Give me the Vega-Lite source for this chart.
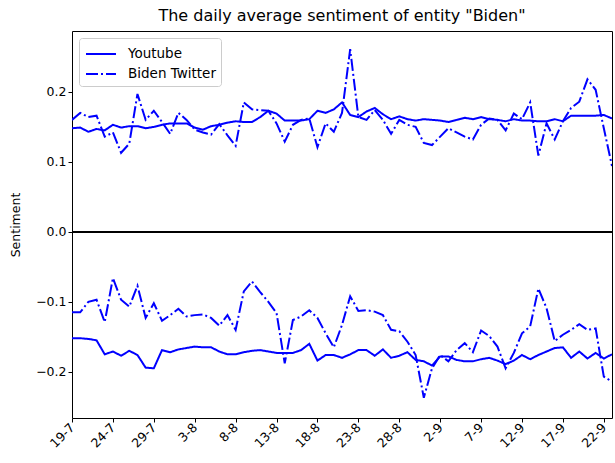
{
  "$schema": "https://vega.github.io/schema/vega-lite/v6.json",
  "width": 540,
  "height": 387,
  "autosize": {"type": "none"},
  "padding": {"left": 72, "top": 31, "right": 3, "bottom": 45},
  "background": "white",
  "title": {"text": "The daily average sentiment of entity \"Biden\"", "fontSize": 16, "fontWeight": "normal", "font": "DejaVu Sans", "color": "black", "offset": 7},
  "config": {
    "view": {"stroke": "black", "strokeWidth": 1},
    "axis": {"grid": false, "domain": false, "tickColor": "black", "tickSize": 4, "labelColor": "black", "labelFont": "DejaVu Sans", "labelFontSize": 12.5, "titleFont": "DejaVu Sans", "titleFontWeight": "normal", "titleFontSize": 12.5, "titleColor": "black"},
    "legend": {"labelFont": "DejaVu Sans", "labelFontSize": 13.5, "labelColor": "black"}
  },
  "data": {"values": [
    {"date":"2020-07-19","source":"Youtube","pos":0.148,"neg":-0.152},{"date":"2020-07-19","source":"Biden Twitter","pos":0.160,"neg":-0.115},
    {"date":"2020-07-20","source":"Youtube","pos":0.149,"neg":-0.152},{"date":"2020-07-20","source":"Biden Twitter","pos":0.170,"neg":-0.115},
    {"date":"2020-07-21","source":"Youtube","pos":0.143,"neg":-0.153},{"date":"2020-07-21","source":"Biden Twitter","pos":0.164,"neg":-0.100},
    {"date":"2020-07-22","source":"Youtube","pos":0.147,"neg":-0.155},{"date":"2020-07-22","source":"Biden Twitter","pos":0.166,"neg":-0.097},
    {"date":"2020-07-23","source":"Youtube","pos":0.145,"neg":-0.175},{"date":"2020-07-23","source":"Biden Twitter","pos":0.136,"neg":-0.129},
    {"date":"2020-07-24","source":"Youtube","pos":0.153,"neg":-0.171},{"date":"2020-07-24","source":"Biden Twitter","pos":0.142,"neg":-0.066},
    {"date":"2020-07-25","source":"Youtube","pos":0.149,"neg":-0.177},{"date":"2020-07-25","source":"Biden Twitter","pos":0.113,"neg":-0.097},
    {"date":"2020-07-26","source":"Youtube","pos":0.151,"neg":-0.170},{"date":"2020-07-26","source":"Biden Twitter","pos":0.126,"neg":-0.107},
    {"date":"2020-07-27","source":"Youtube","pos":0.151,"neg":-0.176},{"date":"2020-07-27","source":"Biden Twitter","pos":0.197,"neg":-0.077},
    {"date":"2020-07-28","source":"Youtube","pos":0.148,"neg":-0.194},{"date":"2020-07-28","source":"Biden Twitter","pos":0.160,"neg":-0.123},
    {"date":"2020-07-29","source":"Youtube","pos":0.150,"neg":-0.195},{"date":"2020-07-29","source":"Biden Twitter","pos":0.173,"neg":-0.102},
    {"date":"2020-07-30","source":"Youtube","pos":0.153,"neg":-0.169},{"date":"2020-07-30","source":"Biden Twitter","pos":0.157,"neg":-0.127},
    {"date":"2020-07-31","source":"Youtube","pos":0.155,"neg":-0.172},{"date":"2020-07-31","source":"Biden Twitter","pos":0.140,"neg":-0.119},
    {"date":"2020-08-01","source":"Youtube","pos":0.155,"neg":-0.168},{"date":"2020-08-01","source":"Biden Twitter","pos":0.170,"neg":-0.110},
    {"date":"2020-08-02","source":"Youtube","pos":0.155,"neg":-0.166},{"date":"2020-08-02","source":"Biden Twitter","pos":0.160,"neg":-0.121},
    {"date":"2020-08-03","source":"Youtube","pos":0.149,"neg":-0.164},{"date":"2020-08-03","source":"Biden Twitter","pos":0.146,"neg":-0.119},
    {"date":"2020-08-04","source":"Youtube","pos":0.146,"neg":-0.165},{"date":"2020-08-04","source":"Biden Twitter","pos":0.142,"neg":-0.118},
    {"date":"2020-08-05","source":"Youtube","pos":0.151,"neg":-0.165},{"date":"2020-08-05","source":"Biden Twitter","pos":0.139,"neg":-0.123},
    {"date":"2020-08-06","source":"Youtube","pos":0.153,"neg":-0.171},{"date":"2020-08-06","source":"Biden Twitter","pos":0.154,"neg":-0.134},
    {"date":"2020-08-07","source":"Youtube","pos":0.156,"neg":-0.175},{"date":"2020-08-07","source":"Biden Twitter","pos":0.138,"neg":-0.119},
    {"date":"2020-08-08","source":"Youtube","pos":0.158,"neg":-0.175},{"date":"2020-08-08","source":"Biden Twitter","pos":0.123,"neg":-0.140},
    {"date":"2020-08-09","source":"Youtube","pos":0.157,"neg":-0.172},{"date":"2020-08-09","source":"Biden Twitter","pos":0.185,"neg":-0.085},
    {"date":"2020-08-10","source":"Youtube","pos":0.157,"neg":-0.170},{"date":"2020-08-10","source":"Biden Twitter","pos":0.175,"neg":-0.071},
    {"date":"2020-08-11","source":"Youtube","pos":0.164,"neg":-0.169},{"date":"2020-08-11","source":"Biden Twitter","pos":0.174,"neg":-0.086},
    {"date":"2020-08-12","source":"Youtube","pos":0.173,"neg":-0.171},{"date":"2020-08-12","source":"Biden Twitter","pos":0.173,"neg":-0.100},
    {"date":"2020-08-13","source":"Youtube","pos":0.169,"neg":-0.173},{"date":"2020-08-13","source":"Biden Twitter","pos":0.155,"neg":-0.116},
    {"date":"2020-08-14","source":"Youtube","pos":0.159,"neg":-0.173},{"date":"2020-08-14","source":"Biden Twitter","pos":0.129,"neg":-0.188},
    {"date":"2020-08-15","source":"Youtube","pos":0.159,"neg":-0.173},{"date":"2020-08-15","source":"Biden Twitter","pos":0.153,"neg":-0.126},
    {"date":"2020-08-16","source":"Youtube","pos":0.159,"neg":-0.169},{"date":"2020-08-16","source":"Biden Twitter","pos":0.160,"neg":-0.121},
    {"date":"2020-08-17","source":"Youtube","pos":0.161,"neg":-0.160},{"date":"2020-08-17","source":"Biden Twitter","pos":0.162,"neg":-0.112},
    {"date":"2020-08-18","source":"Youtube","pos":0.173,"neg":-0.184},{"date":"2020-08-18","source":"Biden Twitter","pos":0.121,"neg":-0.123},
    {"date":"2020-08-19","source":"Youtube","pos":0.170,"neg":-0.176},{"date":"2020-08-19","source":"Biden Twitter","pos":0.155,"neg":-0.145},
    {"date":"2020-08-20","source":"Youtube","pos":0.175,"neg":-0.176},{"date":"2020-08-20","source":"Biden Twitter","pos":0.143,"neg":-0.165},
    {"date":"2020-08-21","source":"Youtube","pos":0.185,"neg":-0.180},{"date":"2020-08-21","source":"Biden Twitter","pos":0.170,"neg":-0.133},
    {"date":"2020-08-22","source":"Youtube","pos":0.167,"neg":-0.175},{"date":"2020-08-22","source":"Biden Twitter","pos":0.261,"neg":-0.092},
    {"date":"2020-08-23","source":"Youtube","pos":0.164,"neg":-0.169},{"date":"2020-08-23","source":"Biden Twitter","pos":0.164,"neg":-0.113},
    {"date":"2020-08-24","source":"Youtube","pos":0.172,"neg":-0.169},{"date":"2020-08-24","source":"Biden Twitter","pos":0.160,"neg":-0.112},
    {"date":"2020-08-25","source":"Youtube","pos":0.177,"neg":-0.177},{"date":"2020-08-25","source":"Biden Twitter","pos":0.174,"neg":-0.114},
    {"date":"2020-08-26","source":"Youtube","pos":0.168,"neg":-0.168},{"date":"2020-08-26","source":"Biden Twitter","pos":0.160,"neg":-0.119},
    {"date":"2020-08-27","source":"Youtube","pos":0.161,"neg":-0.180},{"date":"2020-08-27","source":"Biden Twitter","pos":0.140,"neg":-0.140},
    {"date":"2020-08-28","source":"Youtube","pos":0.165,"neg":-0.177},{"date":"2020-08-28","source":"Biden Twitter","pos":0.160,"neg":-0.142},
    {"date":"2020-08-29","source":"Youtube","pos":0.161,"neg":-0.172},{"date":"2020-08-29","source":"Biden Twitter","pos":0.153,"neg":-0.157},
    {"date":"2020-08-30","source":"Youtube","pos":0.159,"neg":-0.183},{"date":"2020-08-30","source":"Biden Twitter","pos":0.150,"neg":-0.176},
    {"date":"2020-08-31","source":"Youtube","pos":0.161,"neg":-0.185},{"date":"2020-08-31","source":"Biden Twitter","pos":0.127,"neg":-0.237},
    {"date":"2020-09-01","source":"Youtube","pos":0.160,"neg":-0.191},{"date":"2020-09-01","source":"Biden Twitter","pos":0.124,"neg":-0.195},
    {"date":"2020-09-02","source":"Youtube","pos":0.159,"neg":-0.178},{"date":"2020-09-02","source":"Biden Twitter","pos":0.136,"neg":-0.176},
    {"date":"2020-09-03","source":"Youtube","pos":0.157,"neg":-0.178},{"date":"2020-09-03","source":"Biden Twitter","pos":0.148,"neg":-0.185},
    {"date":"2020-09-04","source":"Youtube","pos":0.160,"neg":-0.183},{"date":"2020-09-04","source":"Biden Twitter","pos":0.142,"neg":-0.169},
    {"date":"2020-09-05","source":"Youtube","pos":0.163,"neg":-0.185},{"date":"2020-09-05","source":"Biden Twitter","pos":0.136,"neg":-0.159},
    {"date":"2020-09-06","source":"Youtube","pos":0.161,"neg":-0.185},{"date":"2020-09-06","source":"Biden Twitter","pos":0.132,"neg":-0.172},
    {"date":"2020-09-07","source":"Youtube","pos":0.164,"neg":-0.182},{"date":"2020-09-07","source":"Biden Twitter","pos":0.153,"neg":-0.141},
    {"date":"2020-09-08","source":"Youtube","pos":0.161,"neg":-0.180},{"date":"2020-09-08","source":"Biden Twitter","pos":0.162,"neg":-0.149},
    {"date":"2020-09-09","source":"Youtube","pos":0.160,"neg":-0.184},{"date":"2020-09-09","source":"Biden Twitter","pos":0.160,"neg":-0.164},
    {"date":"2020-09-10","source":"Youtube","pos":0.158,"neg":-0.189},{"date":"2020-09-10","source":"Biden Twitter","pos":0.145,"neg":-0.195},
    {"date":"2020-09-11","source":"Youtube","pos":0.161,"neg":-0.184},{"date":"2020-09-11","source":"Biden Twitter","pos":0.169,"neg":-0.173},
    {"date":"2020-09-12","source":"Youtube","pos":0.159,"neg":-0.176},{"date":"2020-09-12","source":"Biden Twitter","pos":0.161,"neg":-0.145},
    {"date":"2020-09-13","source":"Youtube","pos":0.159,"neg":-0.182},{"date":"2020-09-13","source":"Biden Twitter","pos":0.185,"neg":-0.135},
    {"date":"2020-09-14","source":"Youtube","pos":0.158,"neg":-0.176},{"date":"2020-09-14","source":"Biden Twitter","pos":0.109,"neg":-0.081},
    {"date":"2020-09-15","source":"Youtube","pos":0.158,"neg":-0.171},{"date":"2020-09-15","source":"Biden Twitter","pos":0.155,"neg":-0.109},
    {"date":"2020-09-16","source":"Youtube","pos":0.161,"neg":-0.166},{"date":"2020-09-16","source":"Biden Twitter","pos":0.132,"neg":-0.156},
    {"date":"2020-09-17","source":"Youtube","pos":0.158,"neg":-0.165},{"date":"2020-09-17","source":"Biden Twitter","pos":0.158,"neg":-0.147},
    {"date":"2020-09-18","source":"Youtube","pos":0.166,"neg":-0.180},{"date":"2020-09-18","source":"Biden Twitter","pos":0.177,"neg":-0.140},
    {"date":"2020-09-19","source":"Youtube","pos":0.166,"neg":-0.171},{"date":"2020-09-19","source":"Biden Twitter","pos":0.186,"neg":-0.132},
    {"date":"2020-09-20","source":"Youtube","pos":0.166,"neg":-0.181},{"date":"2020-09-20","source":"Biden Twitter","pos":0.218,"neg":-0.140},
    {"date":"2020-09-21","source":"Youtube","pos":0.166,"neg":-0.173},{"date":"2020-09-21","source":"Biden Twitter","pos":0.203,"neg":-0.138},
    {"date":"2020-09-22","source":"Youtube","pos":0.167,"neg":-0.181},{"date":"2020-09-22","source":"Biden Twitter","pos":0.148,"neg":-0.207},
    {"date":"2020-09-23","source":"Youtube","pos":0.162,"neg":-0.175},{"date":"2020-09-23","source":"Biden Twitter","pos":0.094,"neg":-0.214}
  ]},
  "layer": [
    {
      "transform": [{"fold": ["pos", "neg"], "as": ["sign", "value"]}],
      "mark": {"type": "line", "color": "#0000ff", "strokeWidth": 2, "clip": true},
      "encoding": {
        "x": {"field": "date", "type": "temporal",
          "scale": {"type": "utc", "domain": [{"year": 2020, "month": 7, "date": 19, "utc": true}, {"year": 2020, "month": 9, "date": 23, "utc": true}], "nice": false, "padding": 0},
          "axis": {"title": null, "format": "%-d-%-m", "labelAngle": -45, "labelAlign": "right", "labelBaseline": "middle", "labelPadding": 3,
            "values": [
              {"year": 2020, "month": 7, "date": 19, "utc": true},
              {"year": 2020, "month": 7, "date": 24, "utc": true},
              {"year": 2020, "month": 7, "date": 29, "utc": true},
              {"year": 2020, "month": 8, "date": 3, "utc": true},
              {"year": 2020, "month": 8, "date": 8, "utc": true},
              {"year": 2020, "month": 8, "date": 13, "utc": true},
              {"year": 2020, "month": 8, "date": 18, "utc": true},
              {"year": 2020, "month": 8, "date": 23, "utc": true},
              {"year": 2020, "month": 8, "date": 28, "utc": true},
              {"year": 2020, "month": 9, "date": 2, "utc": true},
              {"year": 2020, "month": 9, "date": 7, "utc": true},
              {"year": 2020, "month": 9, "date": 12, "utc": true},
              {"year": 2020, "month": 9, "date": 17, "utc": true},
              {"year": 2020, "month": 9, "date": 22, "utc": true}
            ]}},
        "y": {"field": "value", "type": "quantitative",
          "scale": {"domain": [-0.266, 0.287], "nice": false, "zero": false},
          "axis": {"title": "Sentiment", "values": [-0.2, -0.1, 0, 0.1, 0.2], "format": ".1f", "titlePadding": 13}},
        "strokeDash": {"field": "source", "type": "nominal",
          "scale": {"domain": ["Youtube", "Biden Twitter"], "range": [[1, 0], [12, 3, 2, 3]]},
          "legend": {"title": null, "orient": "top-left", "offset": 7, "symbolType": "M-1.5,0H1.5", "symbolSize": 400, "symbolOffset": 6, "symbolStrokeWidth": 2, "symbolStrokeColor": "#0000ff", "symbolFillColor": "transparent", "fillColor": "white", "strokeColor": "#cccccc", "cornerRadius": 3, "padding": 5, "rowPadding": 2, "labelOffset": 16}},
        "detail": {"field": "sign", "type": "nominal"}
      }
    },
    {
      "mark": {"type": "rule", "color": "black", "strokeWidth": 1.5},
      "encoding": {"y": {"datum": 0}}
    }
  ]
}
